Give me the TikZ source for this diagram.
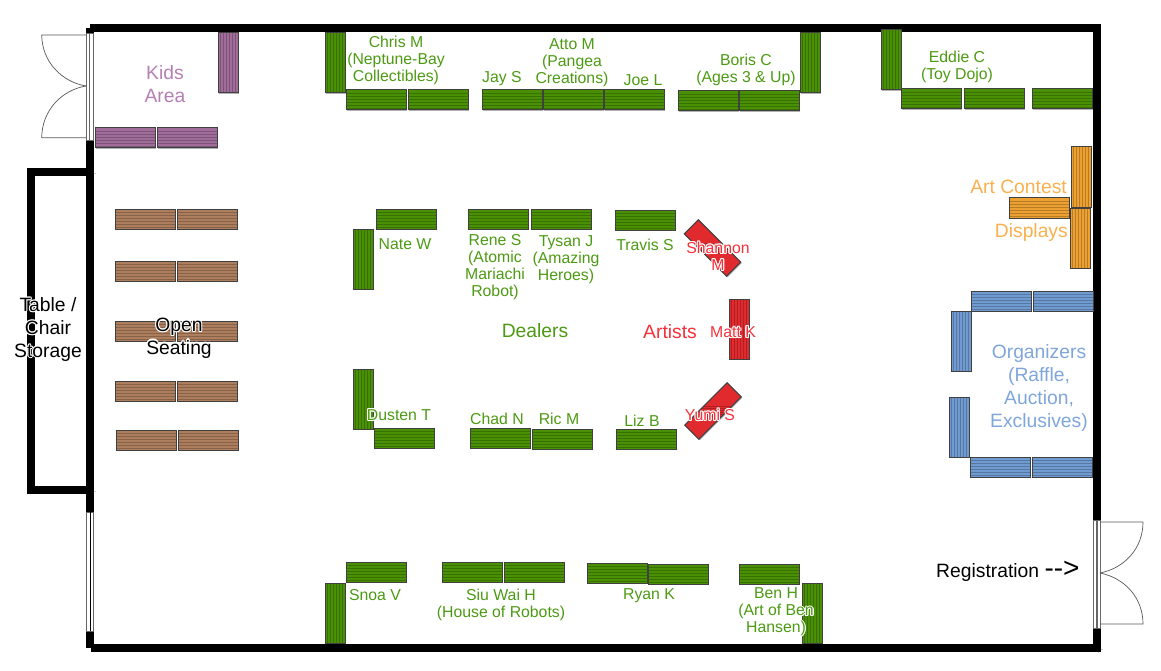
\documentclass[tikz,border=0pt]{standalone}
\usepackage{fontspec}
\setmainfont{Liberation Sans}
\usetikzlibrary{shadows}
\definecolor{dealer}{HTML}{4A9004}
\definecolor{dealertxt}{HTML}{4C9A12}
\definecolor{kids}{HTML}{A06C99}
\definecolor{kidstxt}{HTML}{B57FB4}
\definecolor{seat}{HTML}{AC7E5E}
\definecolor{orgs}{HTML}{6F9BD1}
\definecolor{orgstxt}{HTML}{7FA6DB}
\definecolor{art}{HTML}{EDA032}
\definecolor{arttxt}{HTML}{FAB04E}
\definecolor{artist}{HTML}{E02A2E}
\definecolor{artisttxt}{HTML}{F5303A}
\newcommand{\halolabel}[5][black]{%
    \foreach \dx/\dy in {-1.1/0,1.1/0,0/-1.1,0/1.1,-.8/-.8,.8/-.8,-.8/.8,.8/.8}
        \node[#2, white] at ([shift={(\dx,\dy)}]#4) {#5};
    \node[#2, text=#1](#3) at (#4) {#5};
}
\begin{document}
\begin{tikzpicture}[
        x=1pt, y=-1pt,
        wall/.style={line width=8pt, line cap=square, black,
            preaction={draw=black, opacity=.2, transform canvas={shift={(1.5pt,-1.5pt)}}}},
        door/.style={black!65, line width=.7pt},
        tab/.style={draw=black!75, line width=1pt, inner sep=0pt, outer sep=0pt,
            drop shadow={shadow xshift=1pt, shadow yshift=-1pt, opacity=.3, fill=black}},
        tabh/.style={tab, fill=#1, minimum width=60pt, minimum height=20pt,
            path picture={\foreach \i in {-8,-5,...,9}
                \draw[black, line width=.9pt, opacity=.22]
                ([yshift=\i pt]path picture bounding box.west) -- ([yshift=\i pt]path picture bounding box.east);}},
        tabv/.style={tab, fill=#1, minimum width=20pt, minimum height=60pt,
            path picture={\foreach \i in {-8,-5,...,9}
                \draw[black, line width=.9pt, opacity=.22]
                ([xshift=\i pt]path picture bounding box.south) -- ([xshift=\i pt]path picture bounding box.north);}},
        lbl/.style={align=center, inner sep=0pt, font=\fontsize{15.8}{17}\selectfont},
        dlbl/.style={lbl, text=dealertxt},
        big/.style={align=center, inner sep=0pt, font=\fontsize{19.3}{22.7}\selectfont},
        win/.style={fill=white, draw=black!60, line width=.6pt},
    ]
    \useasboundingbox (0,0) rectangle (1161,671);

    % walls
    \draw[wall] (90,28) -- (1096,28);
    \draw[wall, line cap=butt] (1096.5,24) -- (1096.5,520);
    \draw[wall, line cap=butt] (1097,628) -- (1097,651);
    \draw[wall, line cap=butt] (91,647.5) -- (1101,647.5);
    \draw[wall, line cap=butt] (90,28) -- (90,35);
    \draw[wall, line cap=butt] (90,140) -- (90,512);
    \draw[wall, line cap=butt] (90,631) -- (90,648);
    \draw[wall, line cap=butt] (94,172) -- (31,172) -- (31,490) -- (94,490);

    % doors and windows
    \node[win, minimum width=7pt, minimum height=107pt, inner sep=0pt](doorL) at (89.5,87) {};
    \draw[black!60] (89.5,34) -- (89.5,140);
    \node[win, minimum width=7pt, minimum height=119pt, inner sep=0pt](winL) at (90,571.5) {};
    \draw[black, line width=1pt] (90,512) -- (90,631);
    \node[win, minimum width=7pt, minimum height=108pt, inner sep=0pt](doorR) at (1097,574) {};
    \draw[black!60, line width=1.4pt] (1097,520) -- (1097,628);
    \draw[door] (86,35) -- (41.7,35) .. controls (42,62) and (62,82) .. (86,86);
    \draw[door] (86,137.7) -- (41.7,137.7) .. controls (42,110) and (62,90) .. (86,86);
    \draw[door] (1100,522) -- (1143,522) .. controls (1143,548) and (1125,568) .. (1100,573);
    \draw[door] (1100,624) -- (1143,624) .. controls (1143,598) and (1125,578) .. (1100,573);

    % kids area
    \node[tabv=kids](kidsA) at (228,63) {};
    \node[tabh=kids](kidsB) at (125,138) {};
    \node[tabh=kids](kidsC) at (187,138) {};

    % dealers
    \foreach \nm/\x/\y in {dA/376/100, dB/438/100, dC/512/100, dD/573/100, dE/634/100,
        dF/708/101, dG/769/101, dH/931/99, dI/994/99, dJ/1062/99,
        dK/406/219, dL/498/219, dM/561/219, dN/645/220,
        dO/404/438, dP/500/438, dQ/562/439, dR/646/439,
        dS/376/572, dT/472/572, dU/534/572, dV/617/573, dW/678/574, dX/769/574}
        \node[tabh=dealer](\nm) at (\x,\y) {};
    \foreach \nm/\x/\y in {vA/335/63, vB/810/63, vC/891/60, vD/363/259, vE/363/399, vF/335/613, vG/812/613}
        \node[tabv=dealer](\nm) at (\x,\y) {};

    % seating
    \foreach \nm/\x/\y in {sA/145/219, sB/207/219, sC/145/271, sD/207/271, sE/145/331, sF/207/331,
        sG/145/391, sH/207/391, sI/146/440, sJ/208/440}
        \node[tabh=seat](\nm) at (\x,\y) {};

    % organizers
    \foreach \nm/\x/\y in {oA/1001/301, oB/1063/301, oC/1000/467, oD/1062/467}
        \node[tabh=orgs](\nm) at (\x,\y) {};
    \node[tabv=orgs](oE) at (961,341) {};
    \node[tabv=orgs](oF) at (959,427) {};

    % art contest
    \node[tabv=art](aA) at (1081,177) {};
    \node[tabv=art](aB) at (1080,238) {};
    \node[tabh=art](aC) at (1039,208) {};

    % artists
    \node[tabh=artist, rotate=-45](rA) at (712.5,248) {};
    \node[tabv=artist](rB) at (739,329) {};
    \node[tabh=artist, rotate=45](rC) at (713,411) {};

    % labels
    \node[big, text=kidstxt](kidsL) at (165,84) {Kids\\Area};
    \node[dlbl](lA) at (396,60.5) {Chris M\\(Neptune-Bay\\Collectibles)};
    \node[dlbl](lB) at (502,78.5) {Jay S};
    \node[dlbl](lC) at (572,63) {Atto M\\(Pangea\\Creations)};
    \node[dlbl](lD) at (643,80) {Joe L};
    \node[dlbl](lE) at (746,69.5) {Boris C\\(Ages 3 \& Up)};
    \node[dlbl](lF) at (957,66.5) {Eddie C\\(Toy Dojo)};
    \node[dlbl](lG) at (405,244) {Nate W};
    \node[dlbl](lH) at (495,267.5) {Rene S\\(Atomic\\Mariachi\\Robot)};
    \node[dlbl](lI) at (566,260) {Tysan J\\(Amazing\\Heroes)};
    \node[dlbl](lJ) at (645,245) {Travis S};
    \node[dlbl](lK) at (497,418.5) {Chad N};
    \node[dlbl](lL) at (559,418.5) {Ric M};
    \node[dlbl](lM) at (642,420.5) {Liz B};
    \node[dlbl](lN) at (375,595) {Snoa V};
    \node[dlbl](lO) at (501,605) {Siu Wai H\\(House of Robots)};
    \node[dlbl](lP) at (649,596) {Ryan K};
    \halolabel[dealertxt]{lbl}{lQ}{399,415}{Dusten T}
    \halolabel[dealertxt]{lbl}{lR}{776,612}{Ben H\\(Art of Ben\\Hansen)}
    \node[big, text=dealertxt](dealersL) at (535,330.5) {Dealers};
    \node[big, text=artisttxt](artistsL) at (670,331.5) {Artists};
    \halolabel[artisttxt]{lbl}{lS}{718,256}{Shannon\\M}
    \halolabel[artisttxt]{lbl}{lT}{733,332}{Matt K}
    \halolabel[artisttxt]{lbl}{lU}{710,415}{Yumi S}
    \node[big, text=arttxt, anchor=east](artL) at (1067,187) {Art Contest};
    \node[big, text=arttxt, anchor=east](dispL) at (1068,232.5) {Displays};
    \node[big, text=orgstxt](orgL) at (1039,388) {Organizers\\(Raffle,\\Auction,\\Exclusives)};
    \halolabel{big}{seatL}{179,338}{Open\\Seating}
    \halolabel{big}{storeL}{48,329.5}{Table /\\Chair\\Storage}
    \node[big, anchor=west](regL) at (936,571) {Registration {\fontsize{28}{28}\selectfont -{}->}};
\end{tikzpicture}
\end{document}
